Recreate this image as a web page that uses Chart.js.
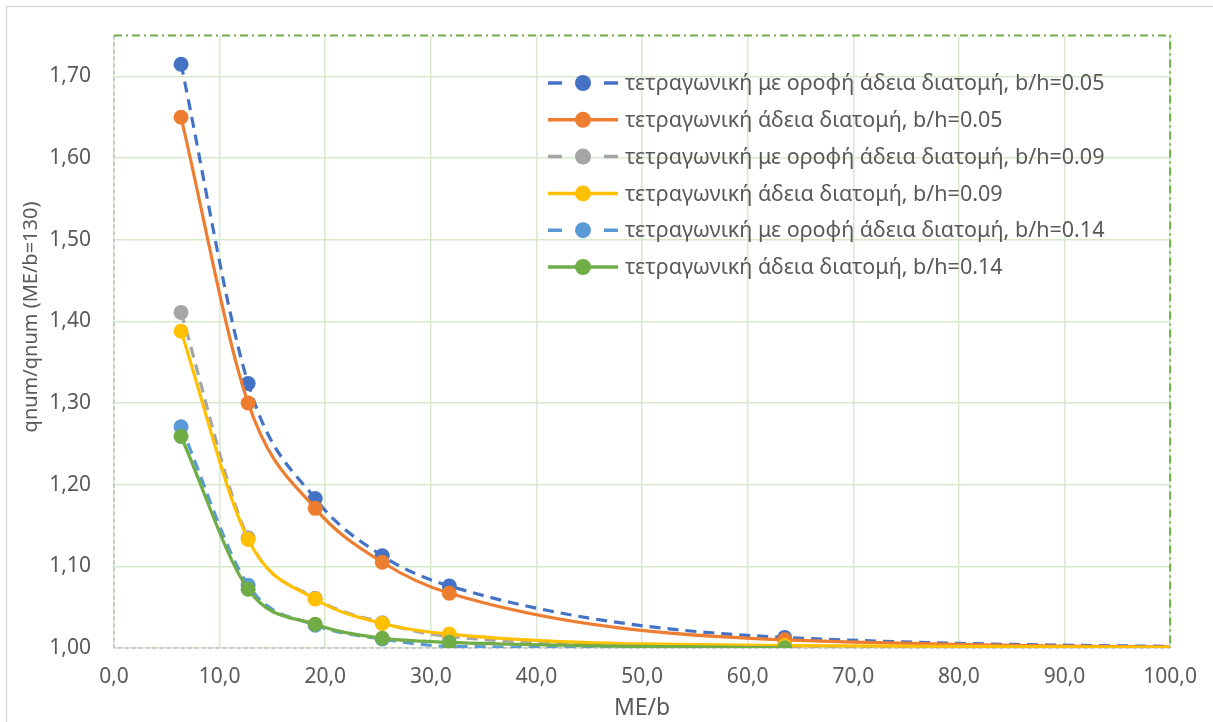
<!DOCTYPE html>
<html>
<head>
<meta charset="utf-8">
<script src="https://cdn.jsdelivr.net/npm/chart.js@4.4.1/dist/chart.umd.min.js"></script>
<style>
  html, body { margin: 0; padding: 0; background: #fff; }
  #wrap { width: 1213px; height: 722px; position: relative; }
</style>
</head>
<body>
<div id="wrap"><canvas id="chart" width="1213" height="722"></canvas></div>
<script>
// ME/b values where results were computed
const xLong = [6.35, 12.7, 19.05, 25.4, 31.75, 63.5, 127];
const xShort = [6.35, 12.7, 19.05, 25.4, 31.75, 63.5];

const labels = [
  "τετραγωνική με οροφή άδεια διατομή, b/h=0.05",
  "τετραγωνική άδεια διατομή, b/h=0.05",
  "τετραγωνική με οροφή άδεια διατομή, b/h=0.09",
  "τετραγωνική άδεια διατομή, b/h=0.09",
  "τετραγωνική με οροφή άδεια διατομή, b/h=0.14",
  "τετραγωνική άδεια διατομή, b/h=0.14"
];
const yTitle = "qnum/qnum (ME/b=130)";

const roof005 = [1.715, 1.324, 1.183, 1.113, 1.076, 1.013, 1.000];
const empty005 = [1.650, 1.300, 1.171, 1.105, 1.067, 1.010, 1.000];
const roof009 = [1.411, 1.135, 1.061, 1.031, 1.014, 1.001, 1.000];
const empty009 = [1.388, 1.133, 1.060, 1.030, 1.017, 1.003, 1.000];
const roof014 = [1.271, 1.077, 1.028, 1.011, 1.002, 1.000];
const empty014 = [1.259, 1.072, 1.029, 1.012, 1.007, 1.000];

const colors = ["#4472C4", "#ED7D31", "#A5A5A5", "#FFC000", "#5B9BD5", "#70AD47"];
const dashed = [true, false, true, false, true, false];
const series = [roof005, empty005, roof009, empty009, roof014, empty014];
const xsFor = [xLong, xLong, xLong, xLong, xShort, xShort];

const FONT = "'Noto Sans', 'Open Sans', sans-serif";
const TXT = "#595959";

const datasets = series.map((vals, i) => ({
  label: labels[i],
  data: vals.map((v, k) => ({ x: xsFor[i][k], y: v })),
  borderColor: colors[i],
  backgroundColor: colors[i],
  borderWidth: 3.2,
  borderDash: dashed[i] ? [11, 7] : [],
  pointRadius: 7.5,
  pointHoverRadius: 7.5,
  pointBorderWidth: 0,
  cubicInterpolationMode: "monotone",
  fill: false,
  order: series.length - i
}));

// legend inside the plot, y title, outer frame, dashed axes and dash-dot top/right border
const decorPlugin = {
  id: "decor",
  beforeDatasetsDraw(chart) {
    const ctx = chart.ctx;
    const a = chart.chartArea;
    ctx.save();
    ctx.strokeStyle = "#bfbfbf";
    ctx.lineWidth = 1.5;
    ctx.setLineDash([4, 3]);
    ctx.beginPath();
    ctx.moveTo(a.left, a.top);
    ctx.lineTo(a.left, a.bottom);
    ctx.lineTo(a.right, a.bottom);
    ctx.stroke();
    ctx.restore();
  },
  afterDraw(chart) {
    const ctx = chart.ctx;
    const a = chart.chartArea;
    ctx.save();
    ctx.strokeStyle = "#70AD47";
    ctx.lineWidth = 2;
    ctx.setLineDash([8, 4, 2, 4]);
    ctx.beginPath();
    ctx.moveTo(a.left, a.top);
    ctx.lineTo(a.right, a.top);
    ctx.lineTo(a.right, a.bottom);
    ctx.stroke();
    ctx.setLineDash([]);
    ctx.strokeStyle = "#d9d9d9";
    ctx.lineWidth = 1.5;
    ctx.strokeRect(6.5, 6.5, 1212, 720);

    // y axis title
    ctx.save();
    ctx.translate(31, 317);
    ctx.rotate(-Math.PI / 2);
    ctx.font = "20px " + FONT;
    ctx.fillStyle = TXT;
    ctx.textAlign = "center";
    ctx.textBaseline = "middle";
    ctx.fillText(yTitle, 0, 0);
    ctx.restore();

    // legend
    const lx = 548, ty = 83, rowH = 36.8;
    ctx.font = "21.5px " + FONT;
    ctx.textBaseline = "middle";
    chart.data.datasets.forEach((ds, i) => {
      const y = ty + i * rowH;
      ctx.strokeStyle = ds.borderColor;
      ctx.lineWidth = 3.5;
      ctx.beginPath();
      if (ds.borderDash.length) {
        ctx.moveTo(lx, y); ctx.lineTo(lx + 14, y);
        ctx.moveTo(lx + 56, y); ctx.lineTo(lx + 70, y);
      } else {
        ctx.moveTo(lx, y); ctx.lineTo(lx + 70, y);
      }
      ctx.stroke();
      ctx.fillStyle = ds.backgroundColor;
      ctx.beginPath();
      ctx.arc(lx + 35, y, 8, 0, Math.PI * 2);
      ctx.fill();
      ctx.fillStyle = TXT;
      ctx.textAlign = "left";
      ctx.fillText(ds.label, lx + 77, y + 1);
    });
    ctx.restore();
  }
};

new Chart(document.getElementById("chart"), {
  type: "line",
  data: { datasets: datasets },
  options: {
    responsive: false,
    animation: false,
    layout: { padding: { left: 8, right: 42, top: 31, bottom: 0 } },
    plugins: {
      legend: { display: false },
      tooltip: { enabled: false }
    },
    scales: {
      x: {
        type: "linear",
        min: 0,
        max: 100,
        ticks: {
          stepSize: 10,
          color: TXT,
          font: { family: FONT, size: 21 },
          padding: 16,
          callback: v => v.toFixed(1).replace(".", ",")
        },
        grid: { color: "#d6e9cb", lineWidth: 1.5, drawTicks: false },
        border: { display: false },
        title: {
          display: true,
          text: "ME/b",
          color: TXT,
          font: { family: FONT, size: 23 },
          padding: { top: 0, bottom: 0 }
        },
        afterFit: s => { s.height = 74; }
      },
      y: {
        min: 1.0,
        max: 1.75,
        afterBuildTicks: s => {
          s.ticks = [1.0, 1.1, 1.2, 1.3, 1.4, 1.5, 1.6, 1.7].map(v => ({ value: v }));
        },
        ticks: {
          color: TXT,
          font: { family: FONT, size: 21 },
          padding: 23,
          callback: v => v.toFixed(2).replace(".", ",")
        },
        grid: { color: "#d6e9cb", lineWidth: 1.5, drawTicks: false },
        border: { display: false },
        afterFit: s => { s.width = 106; }
      }
    }
  },
  plugins: [decorPlugin]
});
</script>
</body>
</html>
